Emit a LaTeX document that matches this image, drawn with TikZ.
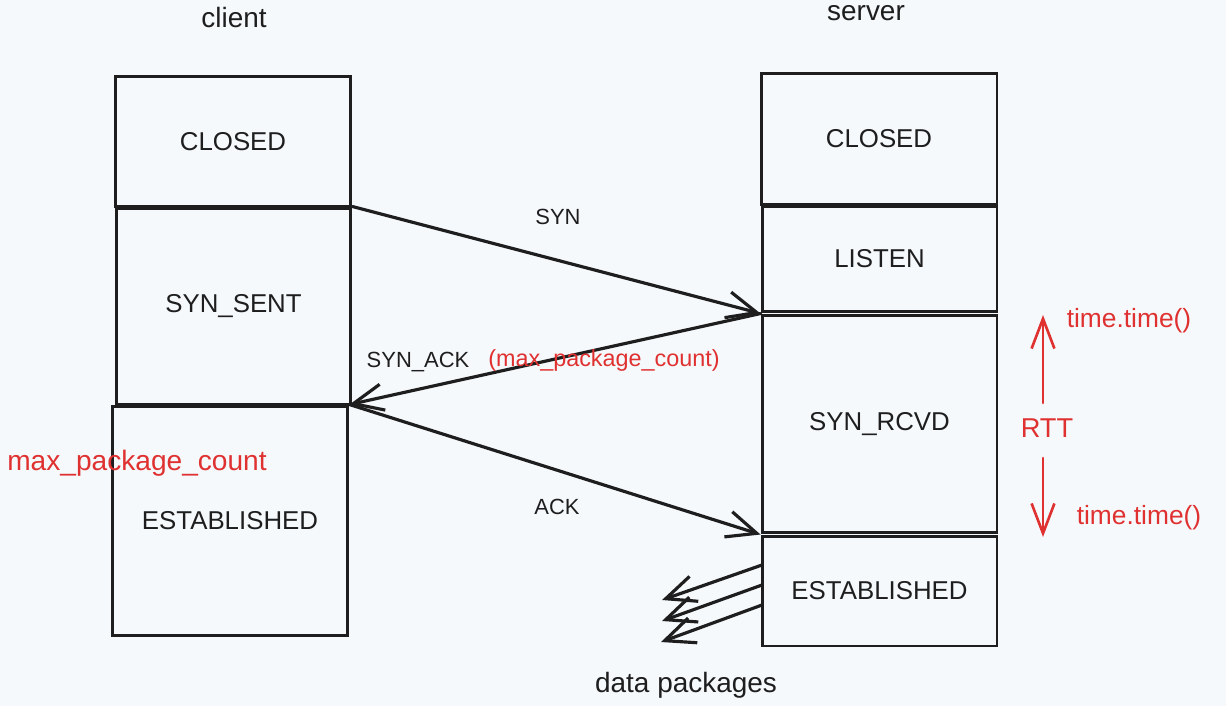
\documentclass[tikz,border=0pt]{standalone}
\usepackage{fontspec}
\setmainfont{Liberation Sans}
\usetikzlibrary{arrows.meta}
\definecolor{bg}{HTML}{F5F9FC}
\definecolor{ink}{HTML}{1E1E1E}
\definecolor{redink}{HTML}{E03131}
\tikzset{
  box/.style={draw=ink, line width=1.7pt, inner sep=0pt, text=ink, font=\fontsize{14.7}{16}\selectfont},
  conn/.style={draw=ink, line width=1.8pt, line cap=round, line join=round, -{Straight Barb[length=17pt,width=15pt]}},
  redconn/.style={draw=redink, line width=1.5pt, line cap=round, line join=round, -{Straight Barb[length=17pt,width=13pt]}},
  title/.style={text=ink, font=\fontsize{15.9}{18}\selectfont},
  lbl/.style={text=ink, font=\fontsize{12.5}{14}\selectfont},
  redlbl/.style={text=redink, font=\fontsize{15}{17}\selectfont},
  redsmall/.style={text=redink, font=\fontsize{13.3}{15}\selectfont}
}
\begin{document}
\begin{tikzpicture}[x=0.02cm,y=-0.02cm]
\fill[bg] (0,0) rectangle (1226,706);
\useasboundingbox (0,0) rectangle (1226,706);

% titles
\node[title] (client) at (234,18) {client};
\node[title] (server) at (866,13) {server};

% client boxes
\node[box, minimum width=4.72cm, minimum height=2.62cm] (cclosed) at (233,141.5) {CLOSED};
\node[box, minimum width=4.70cm, minimum height=3.94cm] (csent) at (233.5,306.5) {SYN\_SENT};
\node[box, minimum width=4.72cm, minimum height=4.60cm] (cest) at (230,521) {ESTABLISHED};

% server boxes
\node[box, minimum width=4.72cm, minimum height=2.64cm] (sclosed) at (879,139) {CLOSED};
\node[box, minimum width=4.70cm, minimum height=2.12cm] (listen) at (879.5,259) {LISTEN};
\node[box, minimum width=4.70cm, minimum height=4.36cm] (rcvd) at (879.5,424) {SYN\_RCVD};
\node[box, minimum width=4.70cm, minimum height=2.20cm] (sest) at (879.5,591) {ESTABLISHED};

% handshake connectors
\draw[conn] (csent.north east) -- (listen.south west);
\node[lbl] (synl) at (558,217) {SYN};
\draw[conn] (rcvd.north west) -- (cest.north east);
\node[lbl] (synackl) at (418,362) {SYN\_ACK};
\node[redsmall] (mpc1) at (604,360) {(max\_package\_count)};
\draw[conn] (cest.north east) -- (sest.north west);
\node[lbl] (ackl) at (557,507) {ACK};

% red label on client
\node[redlbl, font=\fontsize{16}{18}\selectfont] (mpc2) at (137,463) {max\_package\_count};

% data packages
\coordinate (d1s) at (762,565);
\coordinate (d1e) at (662,600);
\coordinate (d2s) at (762,585);
\coordinate (d2e) at (662,621);
\coordinate (d3s) at (762,605);
\coordinate (d3e) at (661,642);
\draw[conn] (d1s) -- (d1e);
\draw[conn] (d2s) -- (d2e);
\draw[conn] (d3s) -- (d3e);
\node[title] (datal) at (686,685) {data packages};

% RTT
\node[redlbl, font=\fontsize{15.5}{17}\selectfont] (rtt) at (1047,428) {RTT};
\coordinate (upS) at (1043,403);
\coordinate (upE) at (1043,315);
\coordinate (dnS) at (1043,458);
\coordinate (dnE) at (1043,537);
\draw[redconn] (upS) -- (upE);
\draw[redconn] (dnS) -- (dnE);
\node[redlbl] (t1) at (1129,321) {time.time()};
\node[redlbl] (t2) at (1139,518) {time.time()};
\end{tikzpicture}
\end{document}
